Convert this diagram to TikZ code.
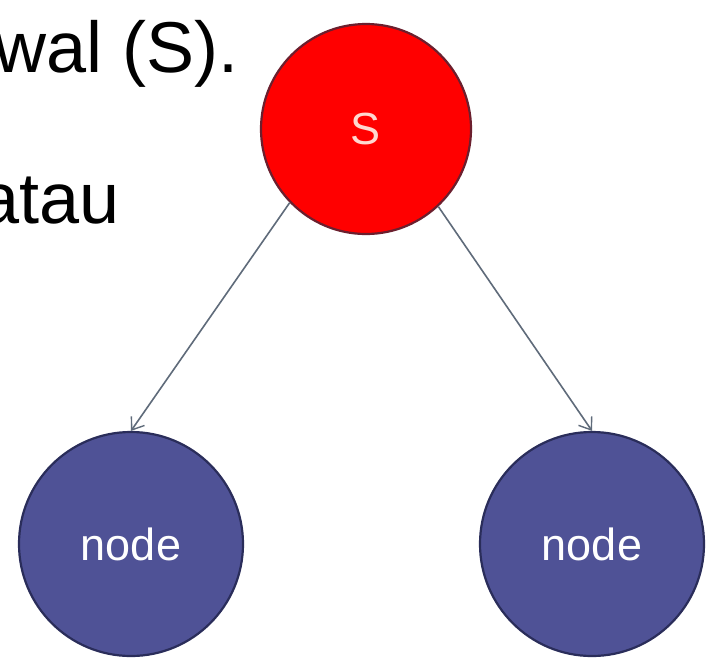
\documentclass[tikz,border=0pt]{standalone}
\usepackage{fontspec}
\setmainfont{Liberation Sans}
\usetikzlibrary{arrows.meta}

\definecolor{startred}{HTML}{FF0000}
\definecolor{startedge}{HTML}{6B1F2E}
\definecolor{nodeblue}{HTML}{4F5296}
\definecolor{nodeedge}{HTML}{2A2D5A}
\definecolor{linkgray}{HTML}{5F6B7A}
\definecolor{startlabel}{HTML}{FFD8D0}

\tikzset{
  startnode/.style={circle, fill=startred, draw=startedge, line width=2.2pt,
    minimum size=210pt, inner sep=0pt, text=startlabel,
    font=\fontsize{45}{50}\selectfont},
  treenode/.style={circle, fill=nodeblue, draw=nodeedge, line width=2.2pt,
    minimum size=224pt, inner sep=0pt, text=white,
    font=\fontsize{45}{50}\selectfont},
  link/.style={draw=linkgray, line width=1.6pt,
    -{Straight Barb[length=11pt,width=16pt,line width=1.4pt]}},
  slidetext/.style={anchor=base west, inner sep=0pt, text=black,
    font=\fontsize{72}{80}\selectfont}
}

\begin{document}
\begin{tikzpicture}[x=1pt,y=-1pt]
  \useasboundingbox (0,0) rectangle (712,659);
  \clip (0,0) rectangle (712,659);
  \fill[white] (0,0) rectangle (712,659);

  % slide text, cut off at the left edge
  \node[slidetext] (line1) at (-6,72) {wal (S).};
  \node[slidetext] (line2) at (-21,223) {atau};

  % start node and its two children
  \node[startnode] (S) at (366,129) {S};
  \node[treenode] (L) at (131,544) {node};
  \node[treenode] (R) at (592,544) {node};

  \draw[link] (S.224) -- (L.north);
  \draw[link] (S.313) -- (R.north);
\end{tikzpicture}
\end{document}
